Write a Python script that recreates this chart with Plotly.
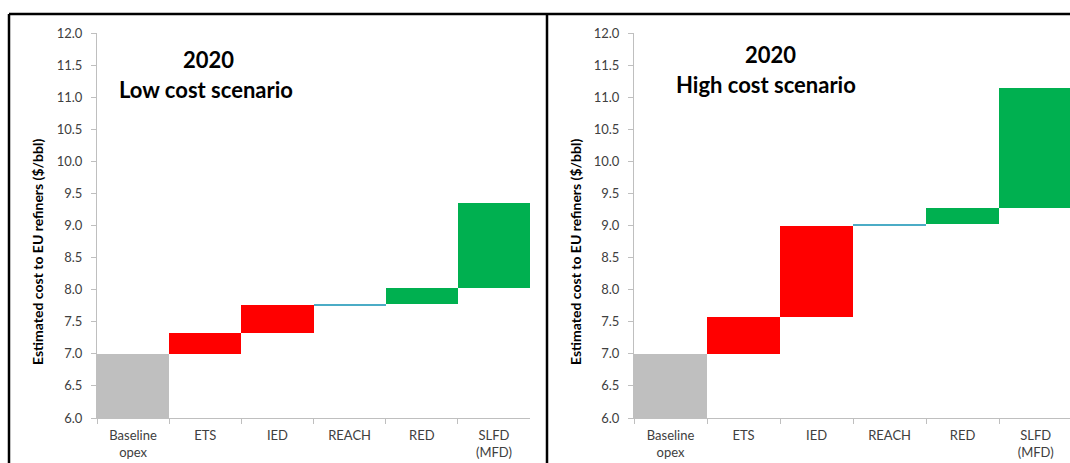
import numpy as np
import plotly.graph_objects as go

# ---- data ----
categories = ["Baseline<br>opex", "ETS", "IED", "REACH", "RED", "SLFD<br>(MFD)"]
low_increments = [7.00, 0.32, 0.44, 0.02, 0.24, 1.33]
high_increments = [7.00, 0.57, 1.42, 0.04, 0.24, 1.88]
bar_colors = ["#BFBFBF", "#FF0000", "#FF0000", "#4BACC6", "#00B050", "#00B050"]
y_ticks = [6.0, 6.5, 7.0, 7.5, 8.0, 8.5, 9.0, 9.5, 10.0, 10.5, 11.0, 11.5, 12.0]
panel_titles = [("2020", "Low cost scenario"), ("2020", "High cost scenario")]
y_title = "Estimated cost to EU refiners ($/bbl)"

W, H = 1070, 463
FONT = "Lato"


def px_x(v):
    return v / W


def px_y(v):
    return (H - v) / H


def bases(incs):
    cum = np.cumsum([0] + list(incs[:-1]))
    return cum.tolist()


fig = go.Figure()
for i, incs in enumerate([low_increments, high_increments]):
    fig.add_trace(go.Bar(
        x=categories, y=incs, base=bases(incs),
        marker=dict(color=bar_colors, line=dict(width=0)),
        xaxis="x" if i == 0 else "x2", yaxis="y" if i == 0 else "y2",
        showlegend=False, hoverinfo="skip", cliponaxis=True,
    ))

ydom = [px_y(418), px_y(33)]
axis_common_y = dict(
    range=[6.0, 12.0], tickvals=y_ticks, ticktext=[f"{v:.1f}" for v in y_ticks],
    showgrid=False, zeroline=False, showline=True, linecolor="#BFBFBF", linewidth=1,
    ticks="outside", ticklen=5, tickcolor="#BFBFBF", automargin=False,
    tickfont=dict(family=FONT, size=13, color="#404040"), ticklabelstandoff=6,
)
axis_common_x = dict(
    showgrid=False, zeroline=False, showline=True, linecolor="#BFBFBF", linewidth=1,
    ticks="outside", ticklen=5, tickcolor="#BFBFBF", tickson="boundaries", automargin=False,
    tickfont=dict(family=FONT, size=13, color="#404040"), ticklabelstandoff=5,
)

fig.update_layout(
    width=W, height=H, margin=dict(l=0, r=0, t=0, b=0, autoexpand=False),
    paper_bgcolor="white", plot_bgcolor="white", bargap=0,
    xaxis=dict(domain=[px_x(97), px_x(530)], range=[-0.5, 5.5], anchor="y", **axis_common_x),
    yaxis=dict(domain=ydom, anchor="x", **axis_common_y),
    xaxis2=dict(domain=[px_x(634), 1.0], range=[-0.5, 5.47], anchor="y2", **axis_common_x),
    yaxis2=dict(domain=ydom, anchor="x2", **axis_common_y),
)

annotations = []
for (yr, name), (cx_year, y_year, x_name, y_name) in zip(
        panel_titles, [(208, 60, 117, 89), (770, 54, 674, 85)]):
    annotations.append(dict(text=f"<b>{yr}</b>", x=px_x(cx_year), y=px_y(y_year),
                            xref="paper", yref="paper", showarrow=False,
                            xanchor="center", yanchor="middle",
                            font=dict(family=FONT, size=22, color="black")))
    annotations.append(dict(text=f"<b>{name}</b>", x=px_x(x_name), y=px_y(y_name),
                            xref="paper", yref="paper", showarrow=False,
                            xanchor="left", yanchor="middle",
                            font=dict(family=FONT, size=22, color="black")))
for xc in [37, 575]:
    annotations.append(dict(text=f"<b>{y_title}</b>", x=px_x(xc), y=px_y(252),
                            xref="paper", yref="paper", showarrow=False, textangle=-90,
                            xanchor="center", yanchor="middle",
                            font=dict(family=FONT, size=14, color="black")))
fig.update_layout(annotations=annotations)

# panel frames
frame = dict(type="line", xref="paper", yref="paper", line=dict(color="black", width=2.5))
fig.update_layout(shapes=[
    dict(frame, x0=px_x(9), x1=1.0, y0=px_y(14), y1=px_y(14)),
    dict(frame, x0=px_x(9), x1=px_x(9), y0=px_y(14), y1=0.0),
    dict(frame, x0=px_x(547), x1=px_x(547), y0=px_y(14), y1=0.0),
])

fig.write_html("out.html")
